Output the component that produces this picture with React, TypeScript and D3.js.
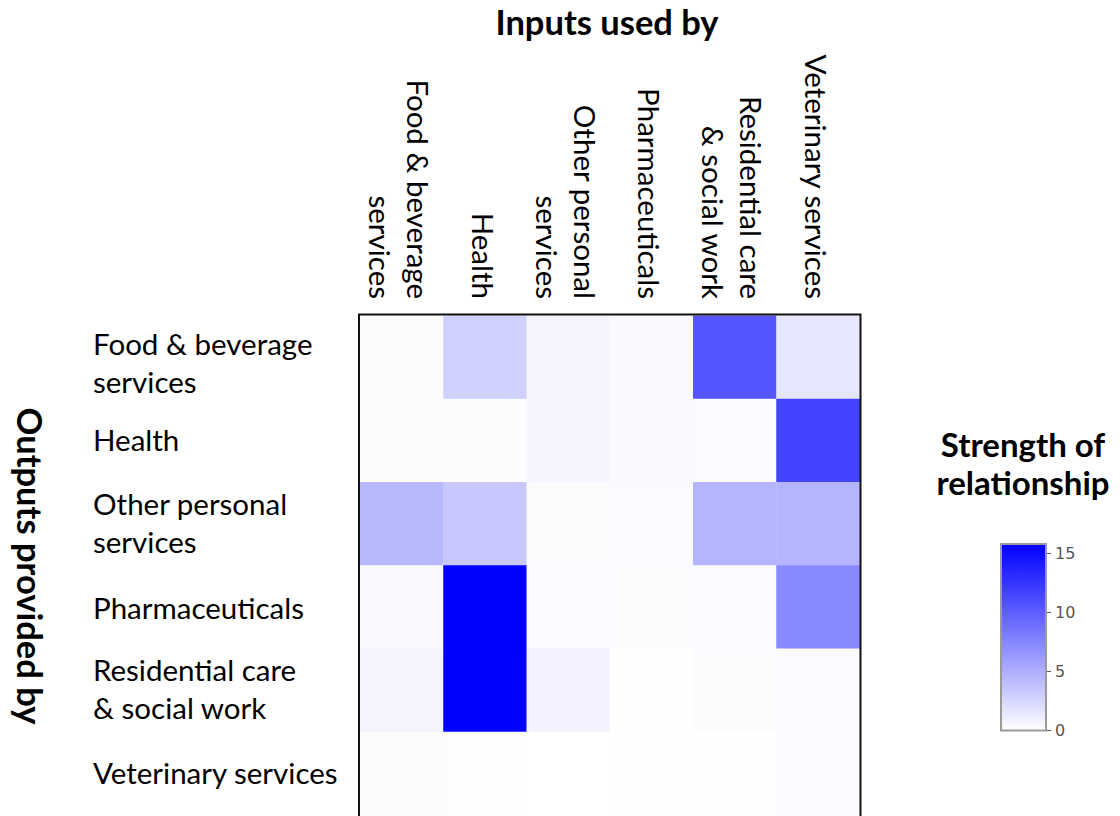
import * as d3 from "d3";

// categories (same for both axes), split into display lines
const sectors = [
  ["Food & beverage", "services"],
  ["Health"],
  ["Other personal", "services"],
  ["Pharmaceuticals"],
  ["Residential care", "& social work"],
  ["Veterinary services"],
];

// rows = outputs provided by, columns = inputs used by
const strength = [
  [0.19, 2.9, 0.62, 0.37, 10.5, 1.55],
  [0.19, 0.19, 0.62, 0.37, 0.31, 11.6],
  [4.4, 3.4, 0.19, 0.31, 4.6, 4.6],
  [0.43, 15.8, 0.31, 0.19, 0.31, 7.4],
  [0.69, 15.8, 0.74, 0.06, 0.19, 0.25],
  [0.19, 0.12, 0, 0.06, 0.06, 0.25],
];

const colorTicks = [0, 5, 10, 15];
const zMax = 15.8;

const W = 1120;
const H = 816;
const grid = { left: 360, top: 315.5, size: 499.5 };
const bar = { x: 1001, w: 45, top: 544, bottom: 730.5 };
const labelFont = "Lato, 'Open Sans', sans-serif";
const labelSize = 29.5;
const titleSize = 34.5;
const lineH = 38;
// small vertical nudges for the row labels, as in the original layout
const rowShift = [7, 0, 0, 2, 0, 0];

const App = () => {
  const idx = d3.range(sectors.length);
  const x = d3.scaleBand<number>().domain(idx).range([grid.left, grid.left + grid.size]);
  const y = d3.scaleBand<number>().domain(idx).range([grid.top, grid.top + grid.size]);
  const color = d3
    .scaleLinear<string>()
    .domain([0, zMax])
    .range(["#ffffff", "#0000ff"])
    .interpolate(d3.interpolateRgb);
  const yBar = d3.scaleLinear().domain([0, zMax]).range([bar.bottom, bar.top]);

  const cells = strength.flatMap((row, r) => row.map((v, c) => ({ r, c, v })));

  return (
    <svg
      width={W}
      height={H}
      style={{ position: "absolute", left: 0, top: 0, background: "#fff" }}
      fontFamily={labelFont}
    >
      <defs>
        <linearGradient id="cbar" x1="0" y1="1" x2="0" y2="0">
          <stop offset="0" stopColor={color(0)} />
          <stop offset="1" stopColor={color(zMax)} />
        </linearGradient>
      </defs>

      {/* titles */}
      <text x={607} y={35} textAnchor="middle" fontSize={titleSize} fontWeight="bold">
        Inputs used by
      </text>
      <text
        transform={`translate(29, 566) rotate(90)`}
        textAnchor="middle"
        dy="0.35em"
        fontSize={titleSize}
        fontWeight="bold"
      >
        Outputs provided by
      </text>

      {/* cells */}
      {cells.map(d => (
        <rect
          key={`${d.r}-${d.c}`}
          x={x(d.c)}
          y={y(d.r)}
          width={x.bandwidth() + 0.5}
          height={y.bandwidth() + 0.5}
          fill={color(d.v)}
        />
      ))}
      <rect
        x={grid.left - 1}
        y={grid.top - 1}
        width={grid.size + 2}
        height={grid.size + 4}
        fill="none"
        stroke="#111"
        strokeWidth={2}
      />

      {/* column labels, rotated */}
      {sectors.map((lines, c) => (
        <text
          key={`col-${c}`}
          transform={`translate(${(x(c) ?? 0) + x.bandwidth() / 2 - 3}, 299) rotate(90)`}
          textAnchor="end"
          fontSize={labelSize}
        >
          {lines.map((ln, i) => (
            <tspan key={i} x={0} y={(i - (lines.length - 1) / 2) * lineH + labelSize * 0.35}>
              {ln}
            </tspan>
          ))}
        </text>
      ))}

      {/* row labels */}
      {sectors.map((lines, r) => (
        <text key={`row-${r}`} fontSize={labelSize}>
          {lines.map((ln, i) => (
            <tspan
              key={i}
              x={93}
              y={
                (y(r) ?? 0) +
                y.bandwidth() / 2 +
                (i - (lines.length - 1) / 2) * lineH +
                labelSize * 0.35 +
                rowShift[r]
              }
            >
              {ln}
            </tspan>
          ))}
        </text>
      ))}

      {/* colorbar */}
      <text textAnchor="middle" fontSize={33} fontWeight="bold">
        <tspan x={1023} y={457}>Strength of</tspan>
        <tspan x={1023} y={495}>relationship</tspan>
      </text>
      <rect
        x={bar.x}
        y={bar.top}
        width={bar.w}
        height={bar.bottom - bar.top}
        fill="url(#cbar)"
        stroke="#9a9a9a"
        strokeWidth={2}
      />
      {colorTicks.map(t => (
        <g key={t} transform={`translate(${bar.x + bar.w + 1}, ${yBar(t)})`}>
          <line x1={0} x2={4} stroke="#555" strokeWidth={1} />
          <text
            x={8}
            dy="0.36em"
            fontSize={16}
            fontFamily="'DejaVu Sans', Verdana, sans-serif"
            fill="#555"
          >
            {t}
          </text>
        </g>
      ))}
    </svg>
  );
};

export default App;
